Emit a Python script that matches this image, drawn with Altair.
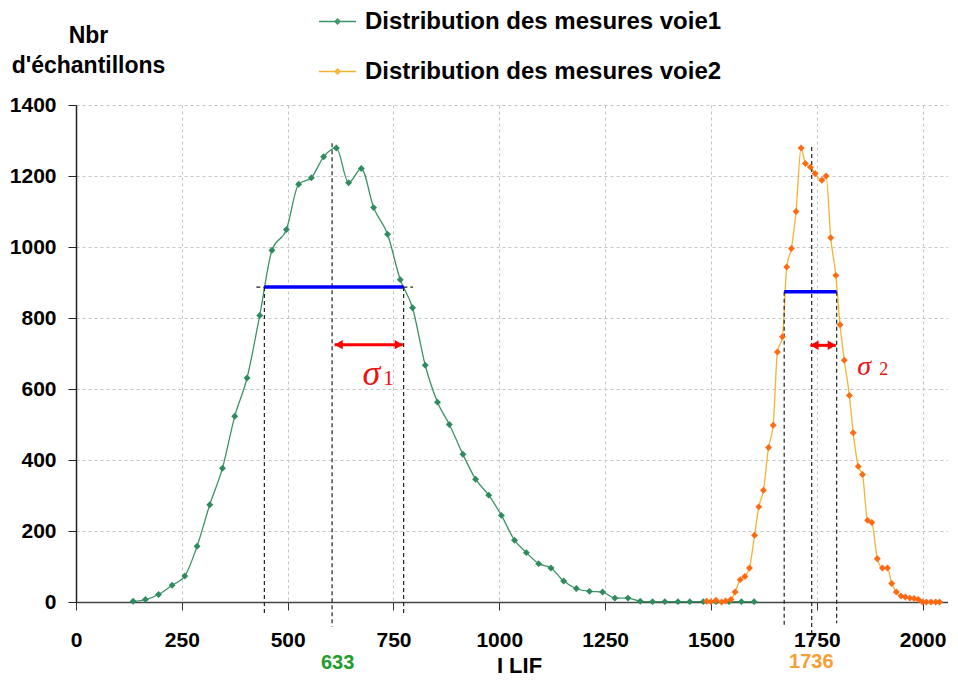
import altair as alt
import pandas as pd

series = ["Distribution des mesures voie1", "Distribution des mesures voie2"]
line_colors = ["#3A9466", "#F7B232"]
marker_colors = ["#2E8B5E", "#FF6A12"]

green_x = [135, 164, 195, 227, 257, 286, 316, 346, 375, 404, 434, 463, 497, 526, 556, 585, 615, 644, 674, 703,
           736, 766, 795, 825, 854, 882, 914, 944, 975, 1005, 1036, 1064, 1093, 1122, 1152, 1182, 1213, 1244, 1273, 1304,
           1333, 1362, 1391, 1422, 1450, 1482, 1512, 1543, 1572, 1602]
green_y = [2, 7, 21, 47, 73, 157, 274, 377, 523, 631, 807, 991, 1049, 1177, 1195, 1254, 1279, 1181, 1221, 1111,
           1036, 908, 829, 667, 563, 500, 416, 346, 301, 244, 174, 139, 108, 96, 59, 38, 30, 28, 11, 11,
           2, 1, 1, 1, 1, 1, 1, 1, 1, 1]

orange_x = [1490, 1500, 1512, 1525, 1535, 1547, 1557, 1569, 1580, 1591, 1603, 1613, 1624, 1636, 1647, 1657, 1669,
            1679, 1690, 1701, 1713, 1723, 1735, 1746, 1762, 1772, 1783, 1795, 1805, 1815, 1827, 1836, 1848, 1858,
            1870, 1880, 1893, 1905, 1917, 1927, 1938, 1949, 1959, 1970, 1980, 1990, 2000, 2009, 2020, 2031, 2040]
orange_y = [2, 1, 5, 0, 3, 7, 28, 63, 72, 96, 188, 268, 315, 435, 498, 704, 747, 944, 996, 1100, 1279, 1235, 1225,
            1207, 1188, 1200, 1026, 920, 781, 681, 582, 477, 382, 359, 230, 224, 122, 96, 96, 52, 28, 17, 14, 11,
            10, 7, 0, 0, 0, 0, 0]

x_ticks = [0, 250, 500, 750, 1000, 1250, 1500, 1750, 2000]
y_ticks = [0, 200, 400, 600, 800, 1000, 1200, 1400]

# annotation values (data units)
vline_x = [605, 445, 774, 1673, 1738, 1797]
vline_top = [1292, 887, 887, 874, 1282, 874]
vline_bottom = [-70, -32, -32, -65, -117, -60]
fwhm_x1 = [445, 1673]
fwhm_x2 = [774, 1797]
fwhm_y = [887, 874]
guide_x1 = [426]
guide_x2 = [796]
guide_y = [887]
arrow_x1 = [611, 1735]
arrow_x2 = [772, 1795]
arrow_y = [725, 723]
sigma_x = [698, 1862]
sigma_y = [610, 639]
sigma_size = [36, 28]
sub_x = [738, 1908]
sub_text = ["1", "2"]
sub_size = [22, 18]
mean_label_x = [618, 1737]
mean_label_text = ["633", "1736"]
mean_label_color = ["#1E9E2A", "#F5A033"]
mean_label_y = [-190, -186]

FONT = "Liberation Sans"
LEGEND_SYMBOL = "M-1,0H1M-0.13,0L0,-0.13L0.13,0L0,0.13Z"

df = pd.concat([
    pd.DataFrame({"x": green_x, "y": green_y, "serie": series[0]}),
    pd.DataFrame({"x": orange_x, "y": orange_y, "serie": series[1]}),
], ignore_index=True)

xscale = alt.Scale(domain=[0, 2060], nice=False)
yscale = alt.Scale(domain=[0, 1400], nice=False)

x_axis = alt.Axis(values=x_ticks, format="d", title="I LIF", titleFont=FONT, titleFontSize=22,
                  titleFontWeight="bold", titleColor="black", titleX=443, titleY=70,
                  titleBaseline="alphabetic", titleAlign="center",
                  labelFont=FONT, labelFontSize=21, labelFontWeight="bold", labelColor="black",
                  labelPadding=19, labelFlush=False, tickSize=8, tickColor="#333333", domainColor="#444444",
                  domainWidth=1.5, grid=True, gridDash=[3, 3], gridColor="#C4C4C4", gridWidth=1)
y_axis = alt.Axis(values=y_ticks, format="d", title=["Nbr", "d'échantillons"], titleFont=FONT,
                  titleFontSize=23, titleFontWeight="bold", titleColor="black", titleAngle=0,
                  titleAlign="center", titleBaseline="alphabetic", titleX=12, titleY=-63,
                  titleLineHeight=30,
                  labelFont=FONT, labelFontSize=21, labelFontWeight="bold", labelColor="black",
                  labelPadding=12, labelFlush=False, tickSize=8, tickColor="#222222", domainColor="#222222",
                  domainWidth=1.5, grid=True, gridDash=[3, 3], gridColor="#C4C4C4", gridWidth=1)


def X(field):
    return alt.X(field, scale=xscale, axis=x_axis)


def Y(field):
    return alt.Y(field, scale=yscale, axis=y_axis)


lines = alt.Chart(df).mark_line(interpolate="monotone", strokeWidth=1.3).encode(
    x=X("x:Q"),
    y=Y("y:Q"),
    color=alt.Color("serie:N", scale=alt.Scale(domain=series, range=line_colors),
                    legend=alt.Legend(title=None, orient="none", legendX=242, legendY=-103,
                                      direction="vertical", symbolType=LEGEND_SYMBOL, symbolSize=1369,
                                      symbolStrokeWidth=1.5, labelFont=FONT, labelFontSize=24,
                                      labelFontWeight="bold", labelColor="black", labelOffset=8,
                                      rowPadding=18, labelLimit=700)),
    detail="serie:N",
)

points = alt.Chart(df).mark_point(shape="diamond", filled=True, size=48, opacity=1).encode(
    x=X("x:Q"),
    y=Y("y:Q"),
    color=alt.Color("serie:N", scale=alt.Scale(domain=series, range=marker_colors), legend=None),
)

vlines_df = pd.DataFrame({"x": vline_x, "y1": vline_top, "y2": vline_bottom})
vlines = alt.Chart(vlines_df).mark_rule(color="#222222", strokeWidth=1.2, strokeDash=[4, 3], clip=False).encode(
    x=X("x:Q"),
    y=Y("y1:Q"),
    y2="y2:Q",
)

guide_df = pd.DataFrame({"x1": guide_x1, "x2": guide_x2, "y": guide_y})
guide = alt.Chart(guide_df).mark_rule(color="#222222", strokeWidth=1.2, strokeDash=[4, 3]).encode(
    x=X("x1:Q"), x2="x2:Q",
    y=Y("y:Q"),
)

fwhm_df = pd.DataFrame({"x1": fwhm_x1, "x2": fwhm_x2, "y": fwhm_y})
fwhm = alt.Chart(fwhm_df).mark_rule(color="#0000FF", strokeWidth=3.5).encode(
    x=X("x1:Q"), x2="x2:Q",
    y=Y("y:Q"),
)

arrow_df = pd.DataFrame({"x1": arrow_x1, "x2": arrow_x2, "y": arrow_y})
arrow_line = alt.Chart(arrow_df).mark_rule(color="#FF0000", strokeWidth=3).encode(
    x=X("x1:Q"), x2="x2:Q",
    y=Y("y:Q"),
)
head_left = alt.Chart(arrow_df).mark_point(shape="triangle-left", filled=True, color="#FF0000",
                                           size=90, opacity=1, xOffset=4).encode(
    x=X("x1:Q"),
    y=Y("y:Q"),
)
head_right = alt.Chart(arrow_df).mark_point(shape="triangle-right", filled=True, color="#FF0000",
                                            size=90, opacity=1, xOffset=-4).encode(
    x=X("x2:Q"),
    y=Y("y:Q"),
)

sigma_df = pd.DataFrame({"x": sigma_x, "y": sigma_y, "s": sigma_size, "sx": sub_x, "t": sub_text,
                         "ss": sub_size})
sigma = alt.Chart(sigma_df).mark_text(text="σ", font="Liberation Serif", fontStyle="italic", color="#EE1111",
                                      baseline="alphabetic", align="center").encode(
    x=X("x:Q"),
    y=Y("y:Q"),
    size=alt.Size("s:Q", scale=None, legend=None),
)
sub = alt.Chart(sigma_df).mark_text(font="Liberation Serif", color="#EE1111",
                                    baseline="alphabetic", align="center").encode(
    x=X("sx:Q"),
    y=Y("y:Q"),
    text="t:N",
    size=alt.Size("ss:Q", scale=None, legend=None),
)

mean_df = pd.DataFrame({"x": mean_label_x, "y": mean_label_y, "t": mean_label_text, "c": mean_label_color})
mean_labels = alt.Chart(mean_df).mark_text(font=FONT, fontWeight="bold", fontSize=20, baseline="alphabetic",
                                           align="center", clip=False).encode(
    x=X("x:Q"),
    y=Y("y:Q"),
    text="t:N",
    color=alt.Color("c:N", scale=None, legend=None),
)

chart = alt.layer(
    lines, vlines, guide, fwhm, arrow_line, head_left, head_right, points, sigma, sub, mean_labels
).resolve_scale(color="independent").properties(
    width=872, height=497,
    autosize=alt.AutoSizeParams(type="none"),
    padding={"left": 68, "top": 97, "right": 0, "bottom": 74},
).configure_view(stroke=None)

chart.save("out.html", embed_options={"renderer": "svg", "actions": False})
